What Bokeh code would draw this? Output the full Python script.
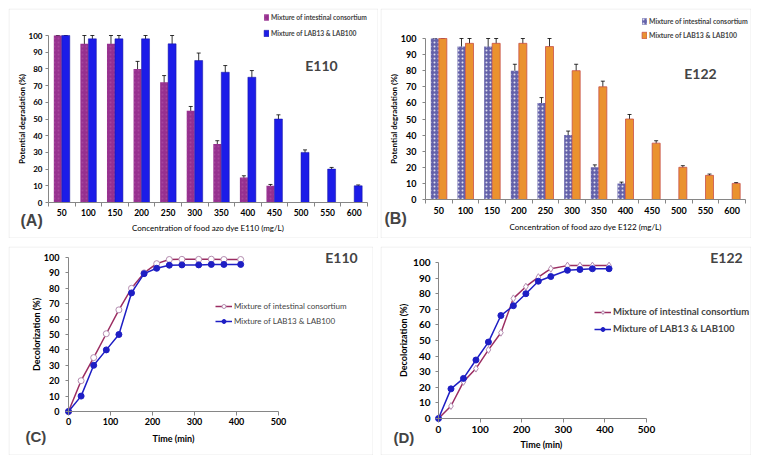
import numpy as np
from bokeh.plotting import figure
from bokeh.models import (Range1d, FixedTicker, SingleIntervalTicker, ColumnDataSource,
                          Whisker, TeeHead, Legend, LegendItem, Label, BoxAnnotation,
                          LinearAxis, Spacer)
from bokeh.layouts import row, column
from bokeh.embed import file_html
from bokeh.resources import INLINE

# ---------------- data ----------------
conc_labels = ["50", "100", "150", "200", "250", "300", "350", "400", "450", "500", "550", "600"]

a_cons = [100, 95, 95, 80, 72, 55, 35, 15, 10, 0, 0, 0]
a_cons_err = [5, 5, 5, 4.5, 4, 2.5, 2, 1, 0.8, 0, 0, 0]
a_lab = [100, 98, 98, 98, 95, 85, 78, 75, 50, 30, 20, 10]
a_lab_err = [5, 2, 2, 2, 5, 4.5, 4, 4, 2.5, 1.5, 1, 0.5]

b_cons = [100, 95, 95, 80, 60, 40, 20, 10, 0, 0, 0, 0]
b_cons_err = [4.5, 5, 5, 4, 3.3, 2.5, 1.5, 0.8, 0, 0, 0, 0]
b_lab = [100, 97, 97, 97, 95, 80, 70, 50, 35, 20, 15, 10]
b_lab_err = [5, 3, 3, 3, 5, 4, 3.5, 2.8, 1.5, 1, 0.8, 0.5]

time_min = [0, 30, 60, 90, 120, 150, 180, 210, 240, 270, 310, 340, 370, 410]
c_cons = [0, 20, 35, 50.5, 66, 80, 90, 96, 98.7, 98.8, 98.8, 98.9, 98.7, 98.7]
c_lab = [0, 10, 30, 40, 50, 77, 89.5, 93, 95, 95.2, 95.2, 95.5, 95.5, 95.5]
d_cons = [0, 8, 23.5, 32, 44, 55, 77, 84.5, 90.6, 96, 98, 98, 98, 98]
d_lab = [0, 19, 25.7, 37.5, 49, 66, 72.3, 80, 88, 91, 95, 95.5, 96, 96]

series_names = ["Mixture of intestinal consortium", "Mixture of LAB13 & LAB100"]

FONT = "Lato"
AX_COL = "#868686"


def make_fig(w, h, xmap, ymap, xaxis_at, yaxis_at, xbounds, ybounds):
    """xmap=(v0, px0, v1, px1) px from left; ymap=(v0, py0, v1, py1) px from top."""
    kx = (xmap[2] - xmap[0]) / (xmap[3] - xmap[1])
    xs = xmap[0] - xmap[1] * kx
    ky = (ymap[2] - ymap[0]) / (ymap[1] - ymap[3])
    ys = ymap[0] - (h - ymap[1]) * ky
    p = figure(width=w, height=h, x_range=Range1d(xs, xs + w * kx),
               y_range=Range1d(ys, ys + h * ky), output_backend="svg",
               toolbar_location=None, x_axis_location=None, y_axis_location=None,
               min_border=0, min_border_left=0, min_border_right=0,
               min_border_top=0, min_border_bottom=0)
    p.grid.visible = False
    p.outline_line_color = None
    p.background_fill_color = "white"
    p.border_fill_color = "white"
    p.add_layout(BoxAnnotation(left=0.5, right=w - 0.5, top=h - 0.5, bottom=0.5,
                               left_units="screen", right_units="screen",
                               top_units="screen", bottom_units="screen",
                               fill_color=None, fill_alpha=0,
                               line_color="#c2c2c2", line_width=1))
    xa = LinearAxis(fixed_location=xaxis_at, bounds=xbounds)
    ya = LinearAxis(fixed_location=yaxis_at, bounds=ybounds)
    p.add_layout(xa, "below")
    p.add_layout(ya, "left")
    for ax in (xa, ya):
        ax.axis_line_color = AX_COL
        ax.major_tick_line_color = AX_COL
        ax.minor_tick_line_color = AX_COL
        ax.major_tick_in = 0
        ax.minor_tick_in = 0
        ax.major_label_text_font = FONT
        ax.major_label_text_font_style = "bold"
        ax.major_label_text_color = "black"
        ax.axis_label_text_font = FONT
        ax.axis_label_text_color = "black"
    ya.ticker = SingleIntervalTicker(interval=10, num_minor_ticks=0)
    ya.major_tick_out = 3
    return p, xa, ya


def add_texts(p, tag, tag_xy, tag_size, letter, letter_xy, letter_size):
    p.add_layout(Label(x=tag_xy[0], y=tag_xy[1], x_units="screen", y_units="screen", text=tag,
                       text_font=FONT, text_font_style="bold", text_font_size=tag_size,
                       text_align="center", text_baseline="middle"))
    p.add_layout(Label(x=letter_xy[0], y=letter_xy[1], x_units="screen", y_units="screen",
                       text=letter, text_font="Liberation Sans", text_font_style="bold",
                       text_font_size=letter_size, text_align="left", text_baseline="middle"))


def bar_panel(w, h, xpx, ypx, cons, cons_err, lab, lab_err, cons_kw, lab_kw,
              xtitle, ytitle, tag, letter, leg_loc, tag_xy, letter_xy, s):
    n = len(conc_labels)
    xi = np.arange(1, n + 1)
    p, xa, ya = make_fig(w, h, (0.5, xpx[0], n + 0.5, xpx[1]), (0, ypx[0], 100, ypx[1]),
                         0, 0.5, (0.5, n + 0.5), (0, 100))
    src_c = ColumnDataSource(dict(x=xi - 0.15, top=cons))
    src_l = ColumnDataSource(dict(x=xi + 0.15, top=lab))
    r1 = p.vbar(x="x", top="top", width=0.3, source=src_c, **cons_kw)
    r2 = p.vbar(x="x", top="top", width=0.3, source=src_l, **lab_kw)
    for vals, errs, off in ((cons, cons_err, -0.15), (lab, lab_err, 0.15)):
        v = np.array(vals, float)
        e = np.array(errs, float)
        m = e > 0
        src = ColumnDataSource(dict(x=(xi + off)[m], lo=(v - e)[m],
                                    hi=np.minimum(v + e, 100)[m]))
        p.add_layout(Whisker(source=src, base="x", lower="lo", upper="hi", line_color="black",
                             line_width=0.8,
                             lower_head=TeeHead(size=4, line_color="black", line_width=0.8),
                             upper_head=TeeHead(size=4, line_color="black", line_width=0.8)))
    xa.ticker = FixedTicker(ticks=list(xi), minor_ticks=list(np.arange(0.5, n + 1, 1.0)))
    xa.major_label_overrides = {int(i): lbl for i, lbl in zip(xi, conc_labels)}
    xa.major_tick_out = 0
    xa.minor_tick_out = 4
    xa.major_label_standoff = s["xstand"]
    xa.major_label_text_font_size = s["xtick"]
    ya.major_label_text_font_size = s["ytick"]
    ya.major_label_standoff = s["ystand"]
    xa.axis_label = xtitle
    xa.axis_label_text_font_size = s["xtitle"]
    xa.axis_label_text_font_style = "normal"
    xa.axis_label_standoff = s["xlstand"]
    ya.axis_label = ytitle
    ya.axis_label_text_font_size = s["ytitle"]
    ya.axis_label_text_font_style = "bold"
    ya.axis_label_standoff = s["ylstand"]
    leg = Legend(items=[LegendItem(label=series_names[0], renderers=[r1]),
                        LegendItem(label=series_names[1], renderers=[r2])],
                 location=leg_loc, label_text_font=FONT, label_text_font_size=s["legend"],
                 label_text_font_style="bold", glyph_width=6, glyph_height=8, label_height=8,
                 spacing=s["legspace"], padding=0, margin=0, border_line_color=None,
                 background_fill_alpha=0, label_standoff=2)
    p.add_layout(leg)
    add_texts(p, tag, tag_xy, "14px", letter, letter_xy, "16px")
    return p


def line_panel(w, h, xpx, ypx, cons, lab, cons_marker, tag, letter, xtitle, leg_loc,
               tag_xy, letter_xy, s):
    p, xa, ya = make_fig(w, h, (0, xpx[0], 500, xpx[1]), (0, ypx[0], 100, ypx[1]),
                         0, 0, (0, 500), (0, 100))
    xa.ticker = SingleIntervalTicker(interval=100, num_minor_ticks=0)
    xa.major_tick_out = 4
    xa.major_label_standoff = s["xstand"]
    src = ColumnDataSource(dict(t=time_min, c=cons, l=lab))
    cc = "#9b2d62"
    lc = "#1e1ec4"
    l1 = p.line("t", "c", source=src, line_color=cc, line_width=1.5)
    m1 = p.scatter("t", "c", source=src, marker=cons_marker, size=s["msize"],
                   fill_color="white", line_color="#b48cb0", line_width=1)
    l2 = p.line("t", "l", source=src, line_color=lc, line_width=1.5)
    m2 = p.scatter("t", "l", source=src, marker="circle", size=6, fill_color=lc,
                   line_color=lc)
    xa.major_label_text_font_size = s["tick"]
    ya.major_label_text_font_size = s["tick"]
    ya.major_label_standoff = s["ystand"]
    xa.axis_label = xtitle
    xa.axis_label_text_font_size = s["title"]
    xa.axis_label_text_font_style = "bold"
    xa.axis_label_standoff = s["xlstand"]
    ya.axis_label = "Decolorization (%)"
    ya.axis_label_text_font_size = s["title"]
    ya.axis_label_text_font_style = "bold"
    ya.axis_label_standoff = s["ylstand"]
    leg = Legend(items=[LegendItem(label=series_names[0], renderers=[l1, m1]),
                        LegendItem(label=series_names[1], renderers=[l2, m2])],
                 location=leg_loc, label_text_font=FONT, label_text_font_size=s["legend"],
                 label_text_font_style=s["legstyle"], glyph_width=17, glyph_height=10,
                 label_height=10, spacing=s["legspace"], padding=0, margin=0,
                 border_line_color=None, background_fill_alpha=0, label_standoff=2)
    p.add_layout(leg)
    add_texts(p, tag, tag_xy, "14px", letter, letter_xy, "15px")
    return p


pA = bar_panel(370, 230, (40, 359), (194, 27), a_cons, a_cons_err, a_lab, a_lab_err,
               dict(fill_color="#96308f", line_color=None, hatch_pattern="dot",
                    hatch_color="#c46ab8", hatch_scale=4, hatch_weight=1, hatch_alpha=0.35),
               dict(fill_color="#1c1ce8", line_color="#12129a", line_width=0.5),
               "Concentration of food azo dye E110 (mg/L)", "Potential degradation (%)",
               "E110", "(A)", (255, 201), (313, 173), (12, 18),
               dict(xtick="8.5px", ytick="8px", xtitle="8px", ytitle="8px", legend="6.7px",
                    legspace=8, xstand=2, xlstand=4, ystand=3, ylstand=-1))

pB = bar_panel(371, 230, (45, 365), (191, 30), b_cons, b_cons_err, b_lab, b_lab_err,
               dict(fill_color="#6462aa", line_color=None, hatch_pattern="dot",
                    hatch_color="white", hatch_scale=4, hatch_weight=1, hatch_alpha=0.8),
               dict(fill_color="#ea922f", line_color="#c8504a", line_width=0.8),
               "Concentration of food azo dye E122 (mg/L)", "Potential degradation (%)",
               "E122", "(B)", (261, 199), (320, 165), (4, 20),
               dict(xtick="9px", ytick="9px", xtitle="8px", ytitle="8px", legend="6.9px",
                    legspace=6, xstand=3, xlstand=5, ystand=6, ylstand=-1))

pC = line_panel(365, 209, (60, 270), (165, 11), c_cons, c_lab, "circle", "E110", "(C)",
                "Time (min)", (207, 129), (333, 198), (17, 19),
                dict(tick="9px", title="9px", legend="8px", legstyle="normal", legspace=5,
                     msize=6, xstand=2, xlstand=5, ystand=6, ylstand=-1))

pD = line_panel(371, 209, (58, 266), (172, 16), d_cons, d_lab, "diamond", "E122", "(D)",
                "Time  (min)", (214, 121), (346, 198), (13, 18),
                dict(tick="10px", title="9px", legend="9.5px", legstyle="bold", legspace=6,
                     msize=7, xstand=3, xlstand=3, ystand=5, ylstand=1))

grid = column(row(pA, pB, spacing=2), row(pC, pD, spacing=7), spacing=8)
layout = column(Spacer(width=8, height=8), row(Spacer(width=8, height=8), grid))

open("out.html", "w").write(file_html(layout, INLINE))
